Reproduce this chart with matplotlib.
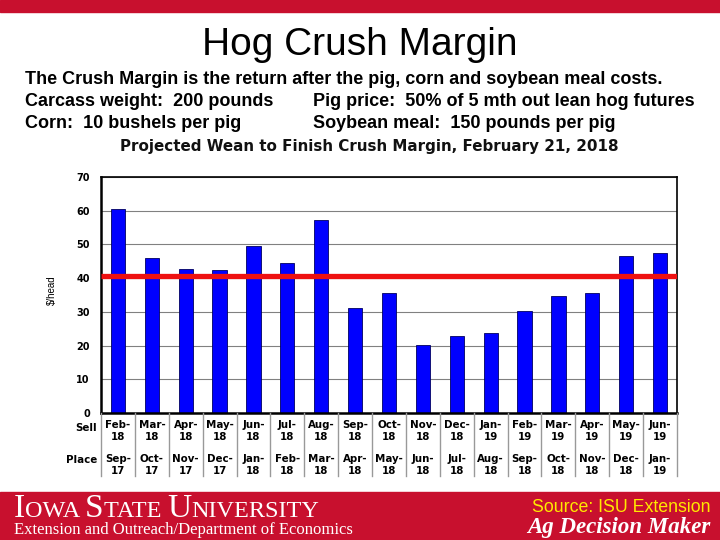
import matplotlib
matplotlib.use('Agg')
import matplotlib.pyplot as plt
import matplotlib.transforms as mtransforms
from matplotlib.lines import Line2D
from matplotlib.patches import Rectangle

plt.rcParams['font.family'] = ['Liberation Sans', 'DejaVu Sans']

sell = ['Feb-18', 'Mar-18', 'Apr-18', 'May-18', 'Jun-18', 'Jul-18', 'Aug-18', 'Sep-18', 'Oct-18',
        'Nov-18', 'Dec-18', 'Jan-19', 'Feb-19', 'Mar-19', 'Apr-19', 'May-19', 'Jun-19']
place = ['Sep-17', 'Oct-17', 'Nov-17', 'Dec-17', 'Jan-18', 'Feb-18', 'Mar-18', 'Apr-18', 'May-18',
         'Jun-18', 'Jul-18', 'Aug-18', 'Sep-18', 'Oct-18', 'Nov-18', 'Dec-18', 'Jan-19']
margin = [60.5, 46.0, 42.7, 42.4, 49.6, 44.5, 57.1, 31.2, 35.6,
          20.2, 22.8, 23.7, 30.2, 34.8, 35.7, 46.6, 47.4]
breakeven = 40.6

ISU_RED = '#C8102E'

fig = plt.figure(figsize=(7.2, 5.4), dpi=100)
W, H = 720, 540

def fy(py):
    return 1 - py / H

# red bands
fig.patches.append(Rectangle((0, fy(12)), 1, 12 / H, transform=fig.transFigure, color=ISU_RED, zorder=0))
fig.patches.append(Rectangle((0, 0), 1, 48 / H, transform=fig.transFigure, color=ISU_RED, zorder=0))

fig.text(0.5, fy(45), 'Hog Crush Margin', ha='center', va='center', fontsize=28)

sub = ['Liberation Sans Narrow', 'Liberation Sans', 'DejaVu Sans']
fig.text(25 / W, fy(80), 'The Crush Margin is the return after the pig, corn and soybean meal costs.',
         ha='left', va='center', fontsize=13, fontweight='bold', family=sub)
fig.text(25 / W, fy(102), 'Carcass weight:  200 pounds', ha='left', va='center', fontsize=13,
         fontweight='bold', family=sub)
fig.text(313 / W, fy(102), 'Pig price:  50% of 5 mth out lean hog futures', ha='left', va='center',
         fontsize=13, fontweight='bold', family=sub)
fig.text(25 / W, fy(124), 'Corn:  10 bushels per pig', ha='left', va='center', fontsize=13,
         fontweight='bold', family=sub)
fig.text(313 / W, fy(124), 'Soybean meal:  150 pounds per pig', ha='left', va='center', fontsize=13,
         fontweight='bold', family=sub)

wide = ['DejaVu Sans']
fig.text(369 / W, fy(147), 'Projected Wean to Finish Crush Margin, February 21, 2018',
         ha='center', va='center', fontsize=10.9, fontweight='bold', color='#111111', family=wide)

# chart
ax = fig.add_axes([101 / W, fy(413), 576 / W, 236 / H])
x = list(range(len(sell)))
ax.bar(x, margin, width=0.42, color='#0000FF', edgecolor='#000060', linewidth=0.6, zorder=2)
ax.plot([-0.5, len(sell) - 0.5], [breakeven, breakeven], color='#EE1111', lw=3.8, zorder=3,
        solid_capstyle='butt')
ax.set_xlim(-0.5, len(sell) - 0.5)
ax.set_ylim(0, 70)
ax.set_yticks(range(0, 71, 10))
ax.yaxis.grid(True, color='#808080', lw=0.8, zorder=0)
ax.set_axisbelow(True)
ax.tick_params(axis='y', length=0, labelsize=7, pad=8)
for lab in ax.get_yticklabels():
    lab.set_fontweight('bold')
    lab.set_family(wide)
ax.set_xticks([])
for s in ax.spines.values():
    s.set_linewidth(1.2)
ax.spines['left'].set_linewidth(1.8)
ax.spines['bottom'].set_linewidth(1.8)

fig.text(52 / W, fy(290), '$/head', rotation=90, ha='center', va='center', fontsize=7)

# category table below the axis
tr = mtransforms.blended_transform_factory(ax.transData, fig.transFigure)
for b in range(len(sell) + 1):
    fig.lines.append(Line2D([b - 0.5, b - 0.5], [fy(413), fy(476)], transform=tr,
                            color='#999999', lw=1.0))
lab_kw = dict(ha='center', va='center', fontsize=7.4, fontweight='bold', family=wide)
for i in x:
    m, yr = sell[i].split('-')
    fig.text(i, fy(425), m + '-', transform=tr, **lab_kw)
    fig.text(i, fy(437), yr, transform=tr, **lab_kw)
    m, yr = place[i].split('-')
    fig.text(i, fy(459), m + '-', transform=tr, **lab_kw)
    fig.text(i, fy(471), yr, transform=tr, **lab_kw)
fig.text(97 / W, fy(428), 'Sell', ha='right', va='center', fontsize=7.4, fontweight='bold', family=wide)
fig.text(97 / W, fy(460), 'Place', ha='right', va='center', fontsize=7.4, fontweight='bold', family=wide)

# footer
serif = ['Liberation Serif', 'DejaVu Serif']
renderer = fig.canvas.get_renderer()
xpos = 14
for piece, size in [('I', 24), ('OWA ', 17.5), ('S', 24), ('TATE ', 17.5), ('U', 24), ('NIVERSITY', 17.5)]:
    t = fig.text(xpos / W, fy(517), piece, ha='left', va='baseline', fontsize=size,
                 color='white', family=serif)
    xpos += t.get_window_extent(renderer).width
fig.text(14 / W, fy(530), 'Extension and Outreach/Department of Economics', ha='left', va='center',
         fontsize=12, color='white', family=serif)
fig.text(710 / W, fy(507), 'Source: ISU Extension', ha='right', va='center', fontsize=12.8,
         color='#FFE800')
fig.text(710 / W, fy(528), 'Ag Decision Maker', ha='right', va='center', fontsize=16.5,
         color='white', family=serif, fontweight='bold', fontstyle='italic')

fig.savefig('out.png', dpi=100)
